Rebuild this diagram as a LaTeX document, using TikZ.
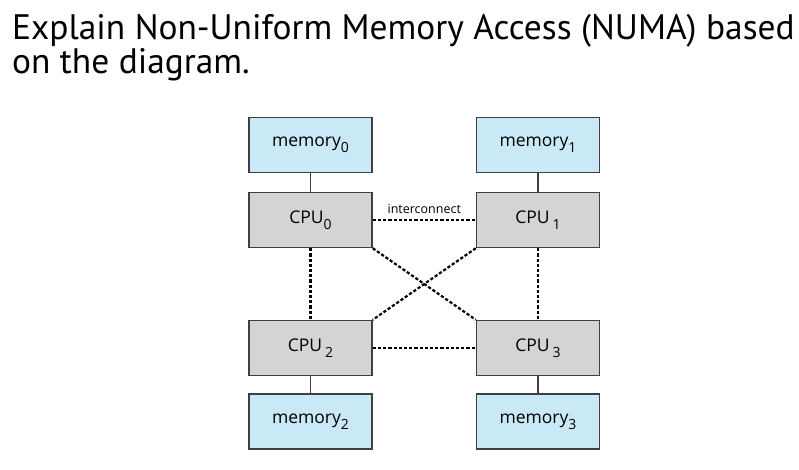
\documentclass[tikz,border=0pt]{standalone}
\usepackage{fontspec}
\setmainfont{Open Sans}
\newfontfamily\titlefont{PT Sans}
\usepackage{tikz}
\usetikzlibrary{positioning}
\definecolor{memblue}{HTML}{C9E9F7}
\definecolor{cpugray}{HTML}{D4D4D4}
\definecolor{boxline}{HTML}{3F3F3F}
\newcommand{\lowidx}[1]{\raisebox{-0.32em}{\fontsize{14}{14}\selectfont #1}}
\tikzset{
  membox/.style={draw=boxline, line width=1.4pt, fill=memblue, minimum width=123pt,
    minimum height=55pt, inner sep=0pt, font=\fontsize{17.5}{19}\selectfont},
  cpubox/.style={membox, fill=cpugray},
  bus/.style={draw=boxline, line width=1.4pt},
  link/.style={line width=2.2pt, dash pattern=on 3.2pt off 2pt},
}

\begin{document}
\begin{tikzpicture}[x=1pt, y=-1pt]
  \useasboundingbox (0,0) rectangle (799,469);
  % question
  \node[anchor=base west, inner sep=0pt, align=left,
    font=\titlefont\fontsize{35.4}{31.3}\selectfont] (q) at (12,73)
    {Explain Non-Uniform Memory Access (NUMA) based\\on the diagram.};
  % memories and cpus
  \node[membox] (mem0) at (310.5,145) {memory\lowidx{0}};
  \node[membox] (mem1) at (538,145) {memory\lowidx{1}};
  \node[cpubox] (cpu0) at (310.5,220) {CPU\lowidx{0}};
  \node[cpubox] (cpu1) at (538,220) {CPU\,\lowidx{1}};
  \node[cpubox] (cpu2) at (310.5,348) {CPU\,\lowidx{2}};
  \node[cpubox] (cpu3) at (538,348) {CPU\,\lowidx{3}};
  \node[membox] (mem2) at (310.5,421.5) {memory\lowidx{2}};
  \node[membox] (mem3) at (538,421.5) {memory\lowidx{3}};
  % buses
  \draw[bus] (mem0) -- (cpu0);
  \draw[bus] (mem1) -- (cpu1);
  \draw[bus] (mem2) -- (cpu2);
  \draw[bus] (mem3) -- (cpu3);
  % interconnect
  \draw[link] (cpu0) -- node[above=2pt, font=\fontsize{12.5}{13}\selectfont] (ic) {interconnect} (cpu1);
  \draw[link] (cpu2) -- (cpu3);
  \draw[link] (cpu0) -- (cpu2);
  \draw[link] (cpu1) -- (cpu3);
  \draw[link] (cpu0.south east) -- (cpu3.north west);
  \draw[link] (cpu1.south west) -- (cpu2.north east);
\end{tikzpicture}
\end{document}
